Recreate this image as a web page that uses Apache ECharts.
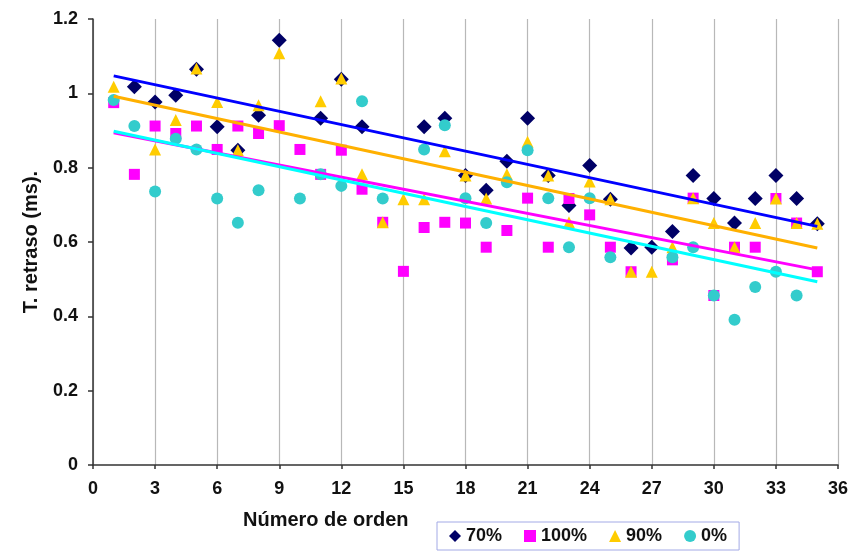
<!DOCTYPE html>
<html>
<head>
<meta charset="utf-8">
<script src="https://cdn.jsdelivr.net/npm/echarts@6/dist/echarts.min.js"></script>
<style>html,body{margin:0;padding:0;background:#fff}#c{width:858px;height:555px}</style>
</head>
<body>
<div id="c"></div>
<script>
var orderNumbers = [1,2,3,4,5,6,7,8,9,10,11,12,13,14,15,16,17,18,19,20,21,22,23,24,25,26,27,28,29,30,31,32,33,34,35];
var s70  = [null,1.018,0.977,0.995,1.065,0.910,0.847,0.941,1.143,null,0.933,1.038,0.910,null,null,0.910,0.933,0.779,0.739,0.817,0.933,0.779,0.698,0.806,0.715,0.584,0.586,0.628,0.779,0.717,0.651,0.717,0.779,0.717,0.649];
var s100 = [0.975,0.782,0.912,0.892,0.912,0.849,0.912,0.892,0.913,0.849,0.782,0.847,0.742,0.653,0.521,0.639,0.653,0.651,0.586,0.631,0.718,0.586,0.717,0.673,0.586,0.520,null,0.552,0.718,0.456,0.586,0.586,0.717,0.651,0.520];
var s90  = [1.018,null,0.849,0.928,1.067,0.977,0.847,0.968,1.108,null,0.979,1.040,0.782,0.653,0.715,0.715,0.844,0.779,0.717,0.782,0.870,0.779,0.653,0.763,0.715,0.520,0.520,0.586,0.718,0.651,0.586,0.651,0.717,0.651,0.649];
var s0   = [0.982,0.912,0.736,0.878,0.849,0.717,0.652,0.739,null,0.717,0.782,0.751,0.979,0.717,null,0.849,0.914,0.718,0.651,0.761,0.847,0.718,0.586,0.718,0.559,null,null,0.559,0.586,0.456,0.391,0.479,0.520,0.456,null];
var trend70  = [[1,1.047],[35,0.642]];
var trend90  = [[1,0.992],[35,0.584]];
var trend100 = [[1,0.894],[35,0.525]];
var trend0   = [[1,0.898],[35,0.493]];
var xTicks = [0,3,6,9,12,15,18,21,24,27,30,33,36];
var yTicks = [0,0.2,0.4,0.6,0.8,1,1.2];
var seriesNames = ['70%','100%','90%','0%'];

function pts(arr){ var r=[]; for(var i=0;i<arr.length;i++){ if(arr[i]!==null) r.push([orderNumbers[i],arr[i]]); } return r; }

var chart = echarts.init(document.getElementById('c'));
var font = 'Liberation Sans, Arial, sans-serif';
chart.setOption({
  animation:false,
  grid:{left:93,right:20,top:19,bottom:90,containLabel:false},
  xAxis:{type:'value',min:xTicks[0],max:xTicks[xTicks.length-1],interval:3,
    axisLine:{lineStyle:{color:'#333',width:1.5}},
    axisTick:{show:true,length:4,lineStyle:{color:'#333',width:1.5}},
    axisLabel:{color:'#111',fontFamily:font,fontWeight:'bold',fontSize:18,margin:15},
    splitLine:{show:true,lineStyle:{color:'#b8b8b8',width:1.2}}
  },
  yAxis:{type:'value',min:yTicks[0],max:yTicks[yTicks.length-1],interval:0.2,
    name:'T. retraso (ms).',nameLocation:'middle',nameGap:52,nameRotate:90,
    nameTextStyle:{color:'#111',fontFamily:font,fontWeight:'bold',fontSize:20},
    axisLine:{show:true,lineStyle:{color:'#333',width:1.5}},
    axisTick:{show:true,length:5,lineStyle:{color:'#333',width:1.5}},
    axisLabel:{color:'#111',fontFamily:font,fontWeight:'bold',fontSize:18,margin:15,
      formatter:function(v){return String(Math.round(v*10)/10);}},
    splitLine:{show:false}
  },
  graphic:[{type:'text',left:243,top:510,style:{text:'Número de orden',fill:'#111',font:'bold 20px Liberation Sans, Arial, sans-serif'}}],
  legend:{data:seriesNames,left:437,top:522,orient:'horizontal',padding:[5,12,5,12],itemGap:22,
    itemWidth:12,itemHeight:12,borderColor:'#a3aae6',borderWidth:1,
    textStyle:{color:'#111',fontFamily:font,fontWeight:'bold',fontSize:18}},
  series:[
    {name:'70%',type:'scatter',symbol:'diamond',symbolSize:15,data:pts(s70),itemStyle:{color:'#000066',opacity:1},z:2},
    {name:'100%',type:'scatter',symbol:'rect',symbolSize:11,data:pts(s100),itemStyle:{color:'#ff00ff',opacity:1},z:3},
    {name:'90%',type:'scatter',symbol:'triangle',symbolSize:12,data:pts(s90),itemStyle:{color:'#ffcc00',opacity:1},z:4},
    {name:'0%',type:'scatter',symbol:'circle',symbolSize:12,data:pts(s0),itemStyle:{color:'#33cccc',opacity:1},z:5},
    {type:'line',data:trend70,symbol:'none',lineStyle:{color:'#0000ff',width:3},z:6,silent:true},
    {type:'line',data:trend100,symbol:'none',lineStyle:{color:'#ff00ff',width:3},z:6,silent:true},
    {type:'line',data:trend90,symbol:'none',lineStyle:{color:'#ffb000',width:3},z:6,silent:true},
    {type:'line',data:trend0,symbol:'none',lineStyle:{color:'#00ffff',width:3},z:6,silent:true}
  ]
});
</script>
</body>
</html>
